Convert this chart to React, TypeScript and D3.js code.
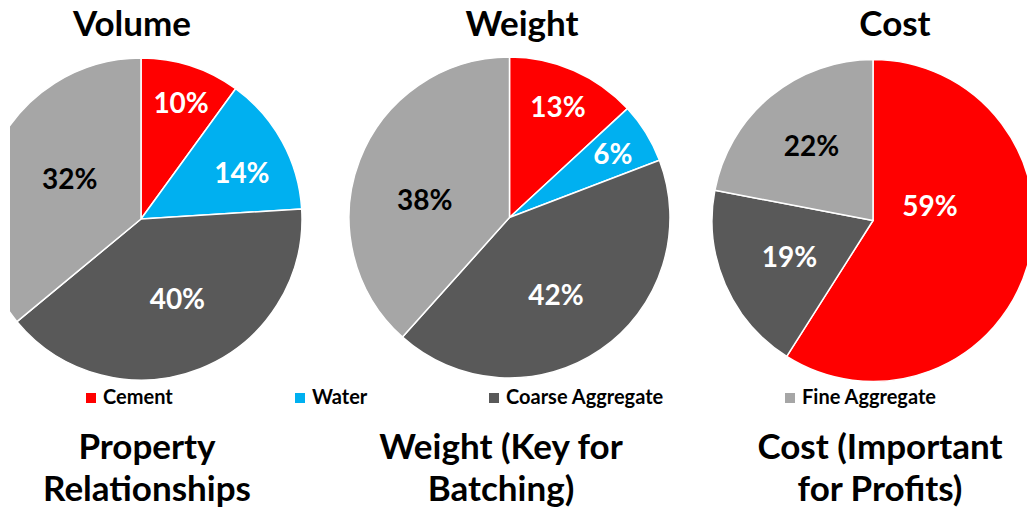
import React from 'react';
import * as d3 from 'd3';

const categories = ['Cement', 'Water', 'Coarse Aggregate', 'Fine Aggregate'];
const colors = ['#FF0000', '#00B0F0', '#595959', '#A6A6A6'];
const labelColors = ['#FFFFFF', '#FFFFFF', '#FFFFFF', '#000000'];

const volumeValues = [10, 14, 40, 36];
const volumeLabels = ['10%', '14%', '40%', '32%'];
const weightValues = [13, 6, 42, 38];
const weightLabels = ['13%', '6%', '42%', '38%'];
const costValues = [59, 0, 19, 22];
const costLabels = ['59%', '', '19%', '22%'];

const topTitles = ['Volume', 'Weight', 'Cost'];
const bottomTitles = [
  ['Property', 'Relationships'],
  ['Weight (Key for', 'Batching)'],
  ['Cost (Important', 'for Profits)'],
];

// layout (style only)
const W = 1027;
const H = 513;
const FONT = 'Lato, "Open Sans", sans-serif';
const pies = [
  { values: volumeValues, labels: volumeLabels, cx: 141, cy: 219, r: 161, titleX: 132, bottomX: 147,
    place: [[0.762, 0.53], [0.69, 0.58], [0.545, 0.48], [0.506, 0.53]] },
  { values: weightValues, labels: weightLabels, cx: 509.5, cy: 217.5, r: 160.5, titleX: 522, bottomX: 501,
    place: [[0.755, 0.5], [0.757, 0.5], [0.563, 0.523], [0.54, 0.433]] },
  { values: costValues, labels: costLabels, cx: 873, cy: 220.5, r: 161, titleX: 895, bottomX: 880,
    place: [[0.365, 0.356], [0, 0], [0.565, 0.5], [0.6, 0.5]] },
];
const legendX = [86, 295, 489, 785];

export default function App() {
  const pieGen = d3.pie<number>().sort(null).value((d) => d);
  return (
    <svg width={W} height={H} style={{ position: 'absolute', left: 0, top: 0, background: '#fff' }}
      fontFamily={FONT} fontWeight={700}>
      <defs>
        <clipPath id="leftClip" clipPathUnits="userSpaceOnUse">
          <rect x={10} y={0} width={W - 10} height={H} />
        </clipPath>
      </defs>
      {pies.map((p, pi) => {
        const arcs = pieGen(p.values);
        const arcGen = d3.arc<d3.PieArcDatum<number>>().innerRadius(0).outerRadius(p.r);
        return (
          <g key={pi}>
            <text x={p.titleX} y={36} textAnchor="middle" fontSize={35} fill="#000">{topTitles[pi]}</text>
            <g clipPath="url(#leftClip)">
              <g transform={`translate(${p.cx},${p.cy})`}>
                {arcs.map((a, i) =>
                  a.value > 0 ? (
                    <path key={i} d={arcGen(a) || ''} fill={colors[i]} stroke="#fff" strokeWidth={1.5} strokeLinejoin="round" />
                  ) : null
                )}
                {arcs.map((a, i) => {
                  if (!p.labels[i]) return null;
                  const [rf, af] = p.place[i];
                  const ang = a.startAngle + af * (a.endAngle - a.startAngle);
                  const x = rf * p.r * Math.sin(ang);
                  const y = -rf * p.r * Math.cos(ang);
                  return (
                    <text key={'l' + i} x={x} y={y} dy="0.36em" textAnchor="middle" fontSize={28} fill={labelColors[i]}>
                      {p.labels[i]}
                    </text>
                  );
                })}
              </g>
            </g>
            {bottomTitles[pi].map((t, li) => (
              <text key={'b' + li} x={p.bottomX} y={459 + li * 42} textAnchor="middle" fontSize={35} fill="#000">{t}</text>
            ))}
          </g>
        );
      })}
      {categories.map((c, i) => (
        <g key={'lg' + i}>
          <rect x={legendX[i]} y={393} width={10} height={10} fill={colors[i]} />
          <text x={legendX[i] + 17} y={404} fontSize={20} fill="#000">{c}</text>
        </g>
      ))}
    </svg>
  );
}
